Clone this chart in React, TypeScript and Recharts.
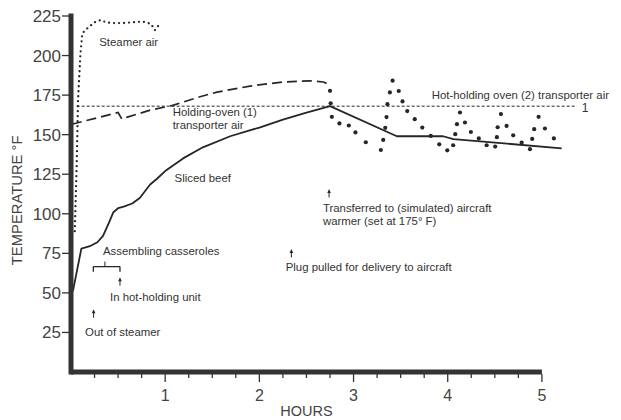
import React from 'react';
import {
  ComposedChart,
  Line,
  Scatter,
  XAxis,
  YAxis,
  ReferenceLine,
  ReferenceDot,
} from 'recharts';

// Axis ticks: hours (quarter-hour minor ticks) and temperature in °F
const hourTicks = [
  0.25, 0.5, 0.75, 1, 1.25, 1.5, 1.75, 2, 2.25, 2.5, 2.75, 3, 3.25, 3.5, 3.75, 4,
  4.25, 4.5, 4.75, 5,
];
const tempTicks = [25, 50, 75, 100, 125, 150, 175, 200, 225];

// Steamer air temperature (h = hours, t = °F)
const steamerAir = [
  { h: 0.04, t: 89 },
  { h: 0.06, t: 130 },
  { h: 0.075, t: 172 },
  { h: 0.1, t: 201 },
  { h: 0.12, t: 214 },
  { h: 0.17, t: 217 },
  { h: 0.21, t: 219 },
  { h: 0.25, t: 221 },
  { h: 0.32, t: 222.5 },
  { h: 0.37, t: 221 },
  { h: 0.45, t: 220.5 },
  { h: 0.55, t: 220.5 },
  { h: 0.65, t: 221 },
  { h: 0.76, t: 221.5 },
  { h: 0.85, t: 220 },
  { h: 0.89, t: 216 },
  { h: 0.93, t: 219 },
];

// Holding-oven (1) transporter air
const holdingOven1Air = [
  { h: 0.01, t: 156.6 },
  { h: 0.5, t: 164 },
  { h: 0.54, t: 159.8 },
  { h: 0.59, t: 160.9 },
  { h: 0.84, t: 165.5 },
  { h: 1.08, t: 168.5 },
  { h: 1.37, t: 174 },
  { h: 1.55, t: 176.9 },
  { h: 1.9, t: 180.7 },
  { h: 2.25, t: 183.3 },
  { h: 2.54, t: 184 },
  { h: 2.68, t: 183.3 },
  { h: 2.75, t: 181.5 },
];

// Hot-holding oven (2) transporter air
const holdingOven2Air = [
  { h: 0.06, t: 168 },
  { h: 5.37, t: 168 },
];

// Sliced beef internal temperature
const slicedBeef = [
  { h: 0.02, t: 51 },
  { h: 0.11, t: 78 },
  { h: 0.2, t: 79.5 },
  { h: 0.28, t: 82 },
  { h: 0.34, t: 86 },
  { h: 0.4, t: 94 },
  { h: 0.45, t: 101 },
  { h: 0.5, t: 103.5 },
  { h: 0.56, t: 104.5 },
  { h: 0.65, t: 106.5 },
  { h: 0.73, t: 110 },
  { h: 0.84, t: 118.5 },
  { h: 0.91, t: 122 },
  { h: 1.0, t: 127 },
  { h: 1.19, t: 135 },
  { h: 1.4, t: 142 },
  { h: 1.69, t: 149 },
  { h: 2.0, t: 154.5 },
  { h: 2.25, t: 159.5 },
  { h: 2.5, t: 164 },
  { h: 2.75, t: 168 },
  { h: 3.46, t: 149 },
  { h: 3.95, t: 149 },
  { h: 4.06, t: 147.2 },
  { h: 5.21, t: 141.4 },
];

// Aircraft warmer air readings (individual points)
const aircraftWarmerAir = [
  { h: 2.75, t: 177.7 },
  { h: 2.757, t: 169.8 },
  { h: 2.77, t: 161.3 },
  { h: 2.85, t: 157.1 },
  { h: 2.95, t: 155.8 },
  { h: 3.02, t: 151.4 },
  { h: 3.13, t: 145.2 },
  { h: 3.29, t: 140.3 },
  { h: 3.315, t: 146.7 },
  { h: 3.337, t: 154.3 },
  { h: 3.35, t: 161.1 },
  { h: 3.36, t: 169.3 },
  { h: 3.386, t: 176.7 },
  { h: 3.415, t: 184.1 },
  { h: 3.48, t: 177.6 },
  { h: 3.52, t: 171 },
  { h: 3.57, t: 164.9 },
  { h: 3.65, t: 159.8 },
  { h: 3.73, t: 154.5 },
  { h: 3.82, t: 149.2 },
  { h: 3.91, t: 143.9 },
  { h: 3.995, t: 140.1 },
  { h: 4.058, t: 143.3 },
  { h: 4.08, t: 150.3 },
  { h: 4.098, t: 156.6 },
  { h: 4.13, t: 164 },
  { h: 4.183, t: 157.7 },
  { h: 4.246, t: 151.7 },
  { h: 4.33, t: 147.6 },
  { h: 4.413, t: 143.3 },
  { h: 4.504, t: 142.5 },
  { h: 4.522, t: 148.4 },
  { h: 4.53, t: 154.7 },
  { h: 4.565, t: 163 },
  { h: 4.625, t: 155.5 },
  { h: 4.695, t: 149.6 },
  { h: 4.785, t: 145 },
  { h: 4.873, t: 140.8 },
  { h: 4.897, t: 147.3 },
  { h: 4.918, t: 153.5 },
  { h: 4.965, t: 161.3 },
  { h: 5.032, t: 153.9 },
  { h: 5.127, t: 147.6 },
];

// Text annotations anchored in chart units (start of first line)
const notes = [
  { h: 0.3, t: 208.6, lines: ['Steamer air'] },
  { h: 1.08, t: 164.2, lines: ['Holding-oven (1)', 'transporter air'] },
  { h: 1.1, t: 122.4, lines: ['Sliced beef'] },
  { h: 3.83, t: 175, lines: ['Hot-holding oven (2) transporter air'] },
  { h: 2.675, t: 103.4, lines: ['Transferred to (simulated) aircraft', 'warmer (set at 175° F)'] },
  { h: 2.28, t: 66.6, lines: ['Plug pulled for delivery to aircraft'] },
  { h: 0.34, t: 76.7, lines: ['Assembling casseroles'] },
  { h: 0.414, t: 47.6, lines: ['In hot-holding unit'] },
  { h: 0.149, t: 25.4, lines: ['Out of steamer'] },
];

// Event arrows (tip position)
const arrows = [
  { h: 2.74, t: 115.4 },
  { h: 2.34, t: 77.4 },
  { h: 0.52, t: 59.6 },
  { h: 0.24, t: 39.3 },
];

// "Assembling casseroles" bracket
const bracket = { from: 0.237, to: 0.52, mid: 0.36, t: 66.6, drop: 3.2, rise: 3.2 };

const FONT = '"Liberation Sans", Arial, sans-serif';
const INK = '#262626';
const AXIS = '#333';

const HourTick = (props: any) => {
  const { x, y, payload } = props;
  const v = payload.value as number;
  const whole = Number.isInteger(v);
  return (
    <g>
      <line x1={x} x2={x} y1={y + 2} y2={y + (whole ? 10 : 6)} stroke={AXIS} strokeWidth={1.3} />
      {whole && (
        <text
          x={x}
          y={y + 23}
          dy="0.35em"
          textAnchor="middle"
          fontFamily={FONT}
          fontSize={16}
          fill="#444"
        >
          {v}
        </text>
      )}
    </g>
  );
};

const TempTick = (props: any) => {
  const { x, y, payload } = props;
  return (
    <g>
      <line x1={x - 9} x2={x - 2} y1={y} y2={y} stroke={AXIS} strokeWidth={1.3} />
      <text
        x={x - 10}
        y={y}
        dy="0.35em"
        textAnchor="end"
        fontFamily={FONT}
        fontSize={17}
        fill="#444"
      >
        {payload.value}
      </text>
    </g>
  );
};

const noteShape = (lines: string[]) => (p: any) => (
  <text x={p.cx} y={p.cy} fontFamily={FONT} fontSize={11.4} fill="#333">
    {lines.map((s, i) => (
      <tspan key={i} x={p.cx} dy={i === 0 ? '0.35em' : 13}>
        {s}
      </tspan>
    ))}
  </text>
);

const arrowShape = (p: any) => (
  <g>
    <line x1={p.cx} x2={p.cx} y1={p.cy + 2} y2={p.cy + 8} stroke={INK} strokeWidth={1} />
    <polygon
      points={`${p.cx},${p.cy - 0.5} ${p.cx - 1.8},${p.cy + 3.5} ${p.cx + 1.8},${p.cy + 3.5}`}
      fill={INK}
    />
  </g>
);

const yLabelShape = (p: any) => (
  <text
    x={17}
    y={p.cy}
    dy="0.35em"
    textAnchor="middle"
    transform={`rotate(-90 17 ${p.cy})`}
    fontFamily={FONT}
    fontSize={14.8}
    fill="#444"
  >
    TEMPERATURE °F
  </text>
);

const xLabelShape = (p: any) => (
  <text
    x={p.cx}
    y={p.cy + 39}
    dy="0.35em"
    textAnchor="middle"
    fontFamily={FONT}
    fontSize={14.5}
    fill="#444"
  >
    HOURS
  </text>
);

const oven2End = holdingOven2Air[holdingOven2Air.length - 1];

const endMarkShape = (p: any) => (
  <text x={p.cx + 5} y={p.cy + 2} dy="0.35em" fontFamily={FONT} fontSize={12} fill="#333">
    1
  </text>
);

export default function App() {
  return (
    <div style={{ position: 'absolute', left: 0, top: 0, background: '#fff' }}>
      <ComposedChart width={621} height={420} margin={{ top: 16, right: 32, bottom: 0, left: 0 }}>
        <XAxis
          type="number"
          dataKey="h"
          domain={[0, 5.5]}
          ticks={hourTicks}
          interval={0}
          height={48}
          axisLine={false}
          tickLine={false}
          tickSize={0}
          tickMargin={0}
          tick={<HourTick />}
        />
        <YAxis
          type="number"
          domain={[0, 225]}
          ticks={tempTicks}
          interval={0}
          width={71}
          axisLine={{ stroke: AXIS, strokeWidth: 5, strokeLinecap: 'square' }}
          tickLine={false}
          tickSize={0}
          tickMargin={0}
          tick={<TempTick />}
        />

        {/* horizontal time axis, drawn only over 0–5 h */}
        <ReferenceLine
          segment={[
            { x: 0, y: 0 },
            { x: 5, y: 0 },
          ]}
          stroke={AXIS}
          strokeWidth={5}
          ifOverflow="visible"
        />

        <ReferenceLine
          segment={[
            { x: holdingOven2Air[0].h, y: holdingOven2Air[0].t },
            { x: oven2End.h, y: oven2End.t },
          ]}
          stroke={INK}
          strokeWidth={1}
          strokeDasharray="3 2"
          ifOverflow="visible"
        />
        <ReferenceDot x={oven2End.h} y={oven2End.t} r={0} ifOverflow="visible" shape={endMarkShape} />

        <Line
          data={steamerAir}
          dataKey="t"
          type="linear"
          stroke={INK}
          strokeWidth={2.3}
          strokeDasharray="0 5"
          strokeLinecap="round"
          dot={false}
          isAnimationActive={false}
        />
        <Line
          data={holdingOven1Air}
          dataKey="t"
          type="linear"
          stroke={INK}
          strokeWidth={1.7}
          strokeDasharray="10 5"
          dot={false}
          isAnimationActive={false}
        />
        <Line
          data={slicedBeef}
          dataKey="t"
          type="linear"
          stroke={INK}
          strokeWidth={1.8}
          strokeLinejoin="round"
          dot={false}
          isAnimationActive={false}
        />
        <Scatter
          data={aircraftWarmerAir}
          dataKey="t"
          isAnimationActive={false}
          shape={(p: any) => <circle cx={p.cx} cy={p.cy} r={2.1} fill={INK} />}
        />

        {/* bracket for casserole assembly */}
        <ReferenceLine
          segment={[
            { x: bracket.from, y: bracket.t },
            { x: bracket.to, y: bracket.t },
          ]}
          stroke={INK}
          strokeWidth={1.3}
        />
        <ReferenceLine
          segment={[
            { x: bracket.from, y: bracket.t },
            { x: bracket.from, y: bracket.t - bracket.drop },
          ]}
          stroke={INK}
          strokeWidth={1.3}
        />
        <ReferenceLine
          segment={[
            { x: bracket.to, y: bracket.t },
            { x: bracket.to, y: bracket.t - bracket.drop },
          ]}
          stroke={INK}
          strokeWidth={1.3}
        />
        <ReferenceLine
          segment={[
            { x: bracket.mid, y: bracket.t },
            { x: bracket.mid, y: bracket.t + bracket.rise },
          ]}
          stroke={INK}
          strokeWidth={1}
        />

        {arrows.map((a, i) => (
          <ReferenceDot key={`a${i}`} x={a.h} y={a.t} r={0} ifOverflow="visible" shape={arrowShape} />
        ))}

        {notes.map((n, i) => (
          <ReferenceDot
            key={`n${i}`}
            x={n.h}
            y={n.t}
            r={0}
            ifOverflow="visible"
            shape={noteShape(n.lines)}
          />
        ))}

        <ReferenceDot x={0} y={108.5} r={0} ifOverflow="visible" shape={yLabelShape} />
        <ReferenceDot x={2.5} y={0} r={0} ifOverflow="visible" shape={xLabelShape} />
      </ComposedChart>
    </div>
  );
}
